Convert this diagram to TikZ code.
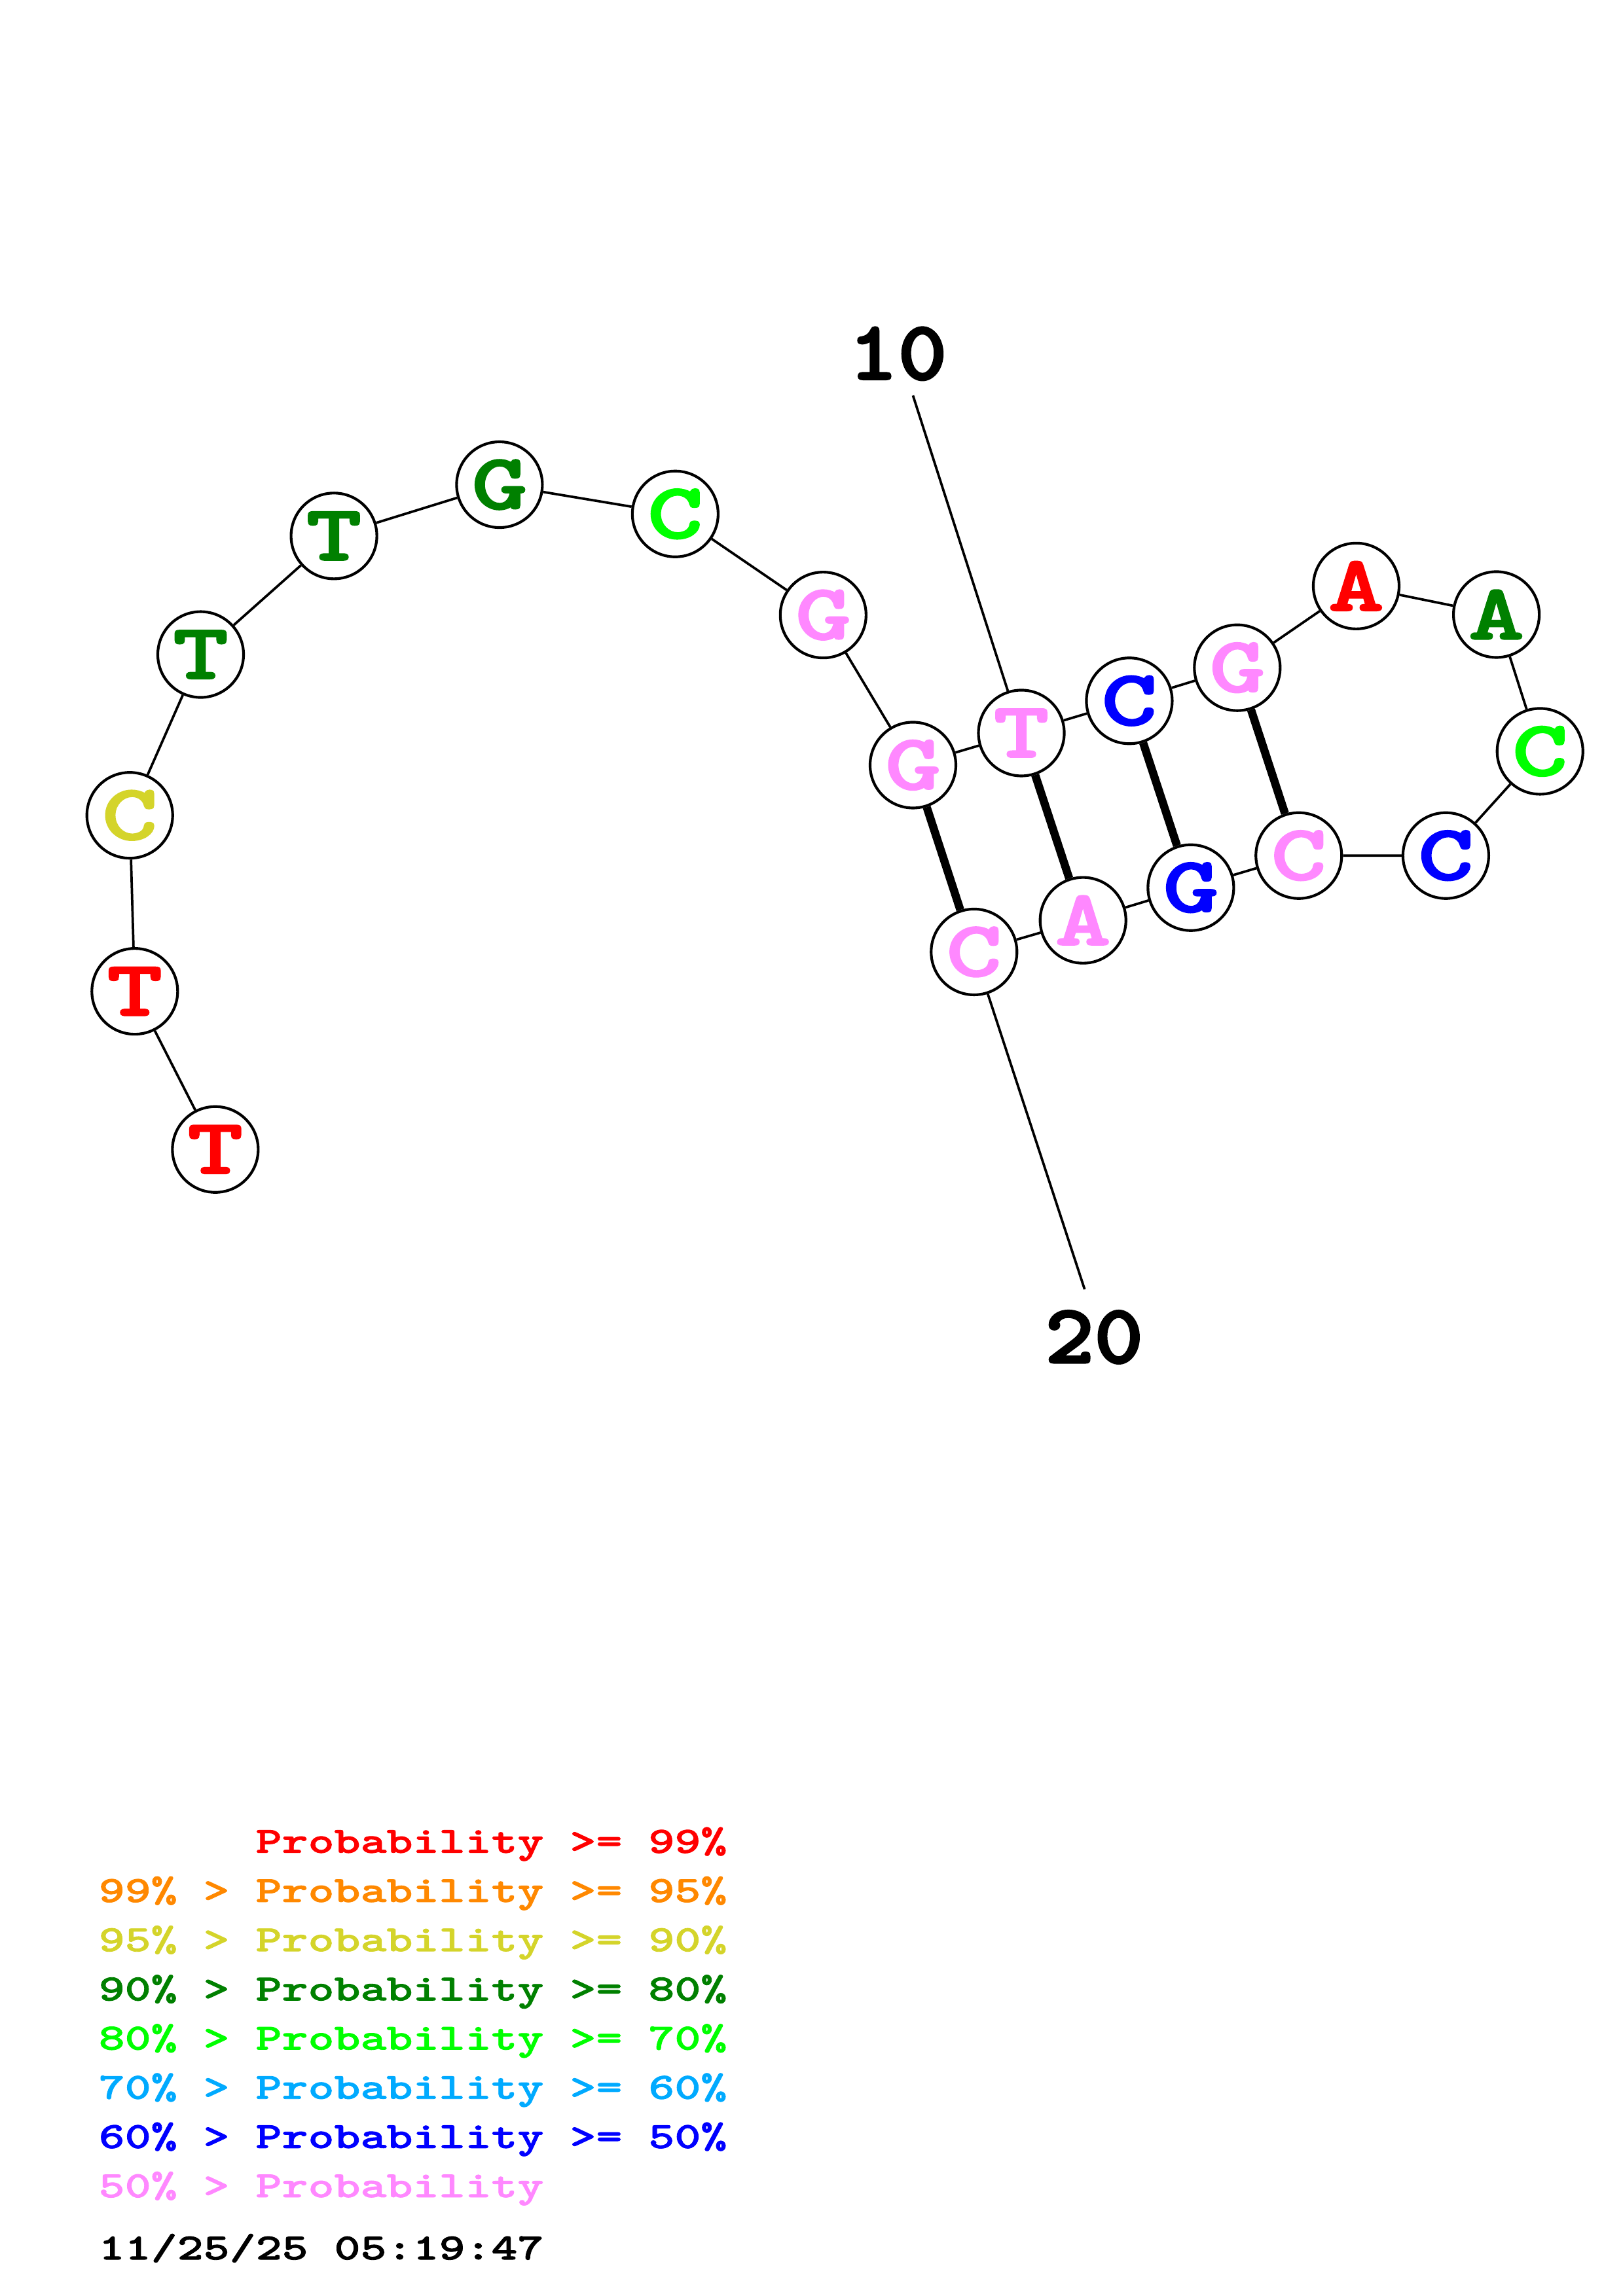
\documentclass[tikz,border=0pt]{standalone}
\usepackage{fontspec}
\newfontfamily\seqfont[FakeStretch=1.35,FakeBold=1.5]{lmmonolt10-bold.otf}
\newfontfamily\basefont[FakeStretch=1.35,FakeBold=2]{lmmonolt10-bold.otf}
\newfontfamily\labfont[FakeStretch=1.12,FakeBold=2.5]{lmmonolt10-bold.otf}
\definecolor{prRed}{RGB}{255,0,0}
\definecolor{prOrange}{RGB}{255,136,0}
\definecolor{prYellow}{RGB}{212,212,42}
\definecolor{prDkGreen}{RGB}{0,128,0}
\definecolor{prGreen}{RGB}{0,255,0}
\definecolor{prLtBlue}{RGB}{0,170,255}
\definecolor{prBlue}{RGB}{0,0,255}
\definecolor{prPink}{RGB}{255,136,255}
\begin{document}
\begin{tikzpicture}[x=0.18953mm,y=-0.18953mm,
		nt/.style={circle,draw,fill=white,line width=1pt,minimum size=11.1mm,inner sep=0pt,
			font=\basefont\fontsize{29}{29}\selectfont},
		bb/.style={line width=0.9pt},
		pair/.style={line width=3pt},
		leg/.style={anchor=base west,inner sep=0pt,font=\seqfont\fontsize{13.6}{13.6}\selectfont},
		lab/.style={anchor=base,inner sep=0pt,font=\labfont\fontsize{30.8}{30.8}\selectfont}]
	\useasboundingbox (0,0) rectangle (1108,1568);
	% bases
	\foreach \n/\x/\y/\b/\c in {1/147/785/T/prRed,2/92/677/T/prRed,3/88.6/556.8/C/prYellow,
		4/137/447/T/prDkGreen,5/228/366/T/prDkGreen,6/341/331/G/prDkGreen,7/461/351/C/prGreen,
		8/562/420/G/prPink,9/623.3/522.5/G/prPink,10/697.3/500.6/T/prPink,11/771/478.6/C/prBlue,
		12/844.7/456/G/prPink,13/925.9/400.2/A/prRed,14/1021.6/419.7/A/prDkGreen,
		15/1051.4/513.1/C/prGreen,16/987.1/584.3/C/prBlue,17/886.7/584.3/C/prPink,
		18/813/606.2/G/prBlue,19/739.4/628.5/A/prPink,20/665/650.1/C/prPink}
	\node[nt,text=\c] (n\n) at (\x,\y) {\b};
	% backbone
	\draw[bb] (n1) -- (n2) -- (n3) -- (n4) -- (n5) -- (n6) -- (n7) -- (n8) -- (n9) -- (n10)
		-- (n11) -- (n12) -- (n13) -- (n14) -- (n15) -- (n16) -- (n17) -- (n18) -- (n19) -- (n20);
	% pairs
	\foreach \a/\b in {9/20,10/19,11/18,12/17}
	\draw[pair] (n\a) -- (n\b);
	% numbering
	\node[lab] (l10) at (613,259) {10};
	\coordinate (t10) at (623.3,270.1);
	\draw[bb] (t10) -- (n10);
	\node[lab] (l20) at (747,930.6) {20};
	\coordinate (t20) at (740.5,880.5);
	\draw[bb] (n20) -- (t20);
	% legend
	\node[leg,text=prRed] (k1) at (67,1265.3) {\hphantom{99\% > }Probability >= 99\%};
	\node[leg,text=prOrange] (k2) at (67,1298.9) {99\% > Probability >= 95\%};
	\node[leg,text=prYellow] (k3) at (67,1332.5) {95\% > Probability >= 90\%};
	\node[leg,text=prDkGreen] (k4) at (67,1366.1) {90\% > Probability >= 80\%};
	\node[leg,text=prGreen] (k5) at (67,1399.7) {80\% > Probability >= 70\%};
	\node[leg,text=prLtBlue] (k6) at (67,1433.3) {70\% > Probability >= 60\%};
	\node[leg,text=prBlue] (k7) at (67,1466.9) {60\% > Probability >= 50\%};
	\node[leg,text=prPink] (k8) at (67,1500.5) {50\% > Probability};
	\node[leg] (date) at (67,1543) {11/25/25 05:19:47};
\end{tikzpicture}
\end{document}
